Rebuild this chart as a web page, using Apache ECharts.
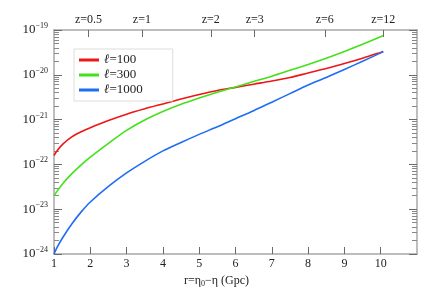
<!DOCTYPE html>
<html>
<head>
<meta charset="utf-8">
<script src="https://cdn.jsdelivr.net/npm/echarts@6/dist/echarts.min.js"></script>
<style>html,body{margin:0;padding:0;background:#fff;}#c{width:439px;height:295px;}</style>
</head>
<body>
<div id="c"></div>
<script>
// ---- data ----
const rValues = [1, 1.1, 1.25, 1.5, 1.75, 2, 2.5, 3, 3.5, 4, 4.5, 5, 5.5, 6, 6.5, 7, 7.5, 8, 8.5, 9, 9.5, 10, 10.07];
const seriesNames = ['\u2113=100', '\u2113=300', '\u2113=1000'];
const power100 = [1.58e-22, 2.09e-22, 2.88e-22, 4.17e-22, 5.37e-22, 6.61e-22, 9.55e-22, 1.32e-21, 1.74e-21, 2.24e-21, 2.88e-21, 3.63e-21, 4.47e-21, 5.25e-21, 6.17e-21, 7.24e-21, 8.71e-21, 1.10e-20, 1.38e-20, 1.78e-20, 2.34e-20, 3.16e-20, 3.31e-20];
const power300 = [2.00e-23, 2.63e-23, 3.80e-23, 6.31e-23, 9.77e-23, 1.45e-22, 2.95e-22, 5.75e-22, 9.77e-22, 1.51e-21, 2.19e-21, 3.02e-21, 4.07e-21, 5.37e-21, 7.08e-21, 9.33e-21, 1.26e-20, 1.70e-20, 2.34e-20, 3.31e-20, 4.79e-20, 7.08e-20, 7.41e-20];
const power1000 = [1.00e-24, 1.48e-24, 2.40e-24, 4.79e-24, 8.71e-24, 1.45e-23, 3.24e-23, 6.46e-23, 1.17e-22, 2.00e-22, 3.09e-22, 4.68e-22, 6.92e-22, 1.05e-21, 1.58e-21, 2.45e-21, 3.80e-21, 5.89e-21, 8.71e-21, 1.32e-20, 2.00e-20, 3.09e-20, 3.31e-20];
const zTickPositions = [1.95, 3.42, 5.32, 6.53, 8.46, 10.07];
const zTickLabels = ['z=0.5', 'z=1', 'z=2', 'z=3', 'z=6', 'z=12'];
const yExponents = [-24, -23, -22, -21, -20, -19];
const colors = ['#f01515', '#44e01a', '#1f6cf5'];

// the y axis is logarithmic: the library's value axis works on log10 of the values
const yMin = yExponents[0], yMax = yExponents[yExponents.length - 1];
const minorTicks = [];
for (let k = 0; k < yExponents.length - 1; k++) {
  for (let m = 2; m <= 9; m++) minorTicks.push(yExponents[k] + Math.log10(m));
}

const FONT = '"Liberation Serif", "DejaVu Serif", "Times New Roman", serif';
const AX = '#a8a8a8';
const TK = '#6a6a6a';
const chart = echarts.init(document.getElementById('c'), null, {renderer: 'canvas'});

function yAxisBase(pos) {
  return {
    type: 'value', min: yMin, max: yMax, interval: 1, position: pos,
    axisLine: {show: true, onZero: false, lineStyle: {color: AX, width: 1.5}},
    splitLine: {show: false},
  };
}

const option = {
  animation: false,
  backgroundColor: '#fff',
  textStyle: {fontFamily: FONT},
  grid: {left: 54, right: 22, top: 30, bottom: 41},
  legend: {
    orient: 'vertical', left: 74, top: 49,
    padding: [4, 30, 4, 5], itemGap: 1,
    itemWidth: 20, itemHeight: 3, icon: 'rect',
    borderColor: '#dddddd', borderWidth: 1, backgroundColor: '#fff',
    data: seriesNames,
    formatter: name => '{i|\u2113}{n|' + name.slice(1) + '}',
    textStyle: {
      fontFamily: FONT, fontSize: 13, color: '#222', lineHeight: 14,
      rich: {
        i: {fontFamily: FONT, fontStyle: 'italic', fontSize: 13, color: '#222'},
        n: {fontFamily: FONT, fontSize: 13, color: '#222'}
      }
    }
  },
  xAxis: [
    {
      type: 'value', min: 1, max: 11, interval: 1, position: 'bottom',
      axisLine: {show: true, onZero: false, lineStyle: {color: AX, width: 1.5}},
      axisTick: {show: true, inside: true, length: 7, lineStyle: {color: TK, width: 1}},
      axisLabel: {fontFamily: FONT, fontSize: 12, color: '#222', margin: 4, showMaxLabel: false},
      splitLine: {show: false},
      name: 'r=\u03b7{s|0}\u2212\u03b7 (Gpc)',
      nameLocation: 'middle', nameGap: 15,
      nameTextStyle: {
        fontFamily: FONT, fontSize: 12, color: '#222', padding: [0, 38, 0, 0],
        rich: {s: {fontFamily: FONT, fontSize: 8, color: '#222', verticalAlign: 'bottom', padding: [6, 0, 0, 0]}}
      }
    },
    {
      type: 'value', min: 1, max: 11, position: 'top',
      axisLine: {show: true, onZero: false, lineStyle: {color: AX, width: 1.5}},
      axisTick: {show: true, inside: true, length: 7, lineStyle: {color: TK, width: 1}, customValues: zTickPositions},
      axisLabel: {
        fontFamily: FONT, fontSize: 12, color: '#222', margin: 4,
        customValues: zTickPositions,
        formatter: v => {
          let best = 0;
          zTickPositions.forEach((p, i) => { if (Math.abs(p - v) < Math.abs(zTickPositions[best] - v)) best = i; });
          return zTickLabels[best];
        }
      },
      splitLine: {show: false}
    }
  ],
  yAxis: [
    Object.assign(yAxisBase('left'), {
      axisTick: {show: true, inside: true, length: 8, lineStyle: {color: TK, width: 1}},
      axisLabel: {
        margin: 6,
        formatter: v => {
          const e = Math.round(v);
          return '{b|10}{s|' + (e < 0 ? '\u2212' + (-e) : e) + '}';
        },
        rich: {
          b: {fontFamily: FONT, fontSize: 13, color: '#222', lineHeight: 16},
          s: {fontFamily: FONT, fontSize: 8, color: '#222', verticalAlign: 'top', lineHeight: 10}
        }
      }
    }),
    Object.assign(yAxisBase('right'), {
      axisTick: {show: true, inside: true, length: 8, lineStyle: {color: TK, width: 1}},
      axisLabel: {show: false}
    }),
    Object.assign(yAxisBase('left'), {
      axisLine: {show: false},
      axisTick: {show: true, inside: true, length: 5, lineStyle: {color: '#888', width: 1}, customValues: minorTicks},
      axisLabel: {show: false}
    }),
    Object.assign(yAxisBase('right'), {
      axisLine: {show: false},
      axisTick: {show: true, inside: true, length: 5, lineStyle: {color: '#888', width: 1}, customValues: minorTicks},
      axisLabel: {show: false}
    })
  ],
  series: [power100, power300, power1000].map((arr, i) => ({
    name: seriesNames[i], type: 'line', xAxisIndex: 0, yAxisIndex: 0,
    data: rValues.map((r, j) => [r, Math.log10(arr[j])]),
    smooth: 0.3, showSymbol: false, symbol: 'none',
    lineStyle: {color: colors[i], width: 1.6},
    itemStyle: {color: colors[i]}
  }))
};
chart.setOption(option);
</script>
</body>
</html>
